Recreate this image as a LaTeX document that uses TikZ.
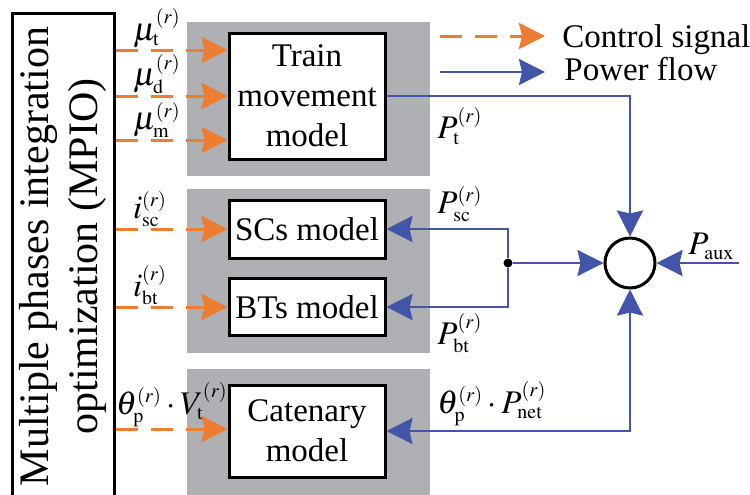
\documentclass[tikz,border=0pt]{standalone}
\usepackage{mathptmx}
\usepackage{fontspec}
\setmainfont{Liberation Serif}
\usetikzlibrary{arrows.meta}
\DeclareMathSizes{16.5}{16.5}{10}{7.5}

\definecolor{ctrlorange}{RGB}{237,125,49}
\definecolor{powerblue}{RGB}{66,85,168}
\definecolor{panelgray}{RGB}{175,176,180}

\tikzset{
  bigtip/.tip={Stealth[length=13pt,width=13pt,inset=1.5pt]},
  model/.style={draw, line width=1.5pt, fill=white, minimum width=78pt, inner sep=0pt, align=center},
  ctrl/.style={ctrlorange, line width=1.5pt, dash pattern=on 11pt off 6.5pt, -bigtip},
  power/.style={powerblue, line width=1.3pt, -bigtip},
  lab/.style={inner sep=1pt},
}

\begin{document}
\begin{tikzpicture}[x=0.5pt, y=-0.5pt, font=\fontsize{16.5}{20}\selectfont]

\def\ctrlin(#1,#2,#3,#4,#5){ % name, target model, y of the arrow, x of the label, label
\coordinate (#1) at (#2.west |- 0,#3);
\draw[ctrl] (mpio.east |- #1) -- (#1);
\node[lab, anchor=south] (#1lab) at (#4,#3) {$#5$};
}

\useasboundingbox (0,0) rectangle (750,494);

%Grey panels behind the models
\fill[panelgray] (187,22) rectangle (430,176);
\fill[panelgray] (187,189) rectangle (430,353);
\fill[panelgray] (187,369) rectangle (430,500);

%MPIO block
\node[draw, line width=1.5pt, inner sep=0pt, minimum width=51pt, minimum height=243.5pt,
  font=\fontsize{21}{24.5}\selectfont] (mpio) at (63,256.5)
  {\rotatebox{90}{\begin{tabular}{@{}c@{}}Multiple phases integration\\optimization (MPIO)\end{tabular}}};

%Models
\node[model, minimum height=63pt] (tm) at (307,96) {Train\\movement\\model};
\node[model, minimum height=29pt] (sc) at (307,229) {SCs model};
\node[model, minimum height=28.5pt] (bt) at (307,307) {BTs model};
\node[model, minimum height=46pt] (cat) at (307,431) {Catenary\\model};

%Power balance node
\node[draw, circle, line width=1.5pt, minimum size=25pt, inner sep=0pt] (sum) at (630,263) {};
\node[circle, fill=black, minimum size=4.5pt, inner sep=0pt] (junc) at (508,263) {};
\coordinate (aux) at (739,263);

%Control signals
\ctrlin(mut,tm,50,157,{\mu_{\mathrm{t}}^{(r)}})
\ctrlin(mud,tm,96,157,{\mu_{\mathrm{d}}^{(r)}})
\ctrlin(mum,tm,140,157,{\mu_{\mathrm{m}}^{(r)}})
\ctrlin(isc,sc,229,150,{i_{\mathrm{sc}}^{(r)}})
\ctrlin(ibt,bt,307,150,{i_{\mathrm{bt}}^{(r)}})
\ctrlin(vt,cat,429,172,{\theta_{\mathrm{p}}^{(r)}\cdot V_{\mathrm{t}}^{(r)}})

%Power flows
\draw[power] (tm.east) -| (sum.north);
\draw[power] (junc) -- (sum.west);
\draw[power] (junc) |- (sc.east);
\draw[power] (junc) |- (bt.east);
\draw[power] (aux) -- (sum.east);
\draw[power, bigtip-bigtip] (cat.east) -| (sum.south);

%Power labels
\node[lab, anchor=north west] (ptlab) at (435,105) {$P_{\mathrm{t}}^{(r)}$};
\node[lab, anchor=south west] (psclab) at (435,224) {$P_{\mathrm{sc}}^{(r)}$};
\node[lab, anchor=north west] (pbtlab) at (435,311) {$P_{\mathrm{bt}}^{(r)}$};
\node[lab, anchor=south west] (pnetlab) at (435,428) {$\theta_{\mathrm{p}}^{(r)}\cdot P_{\mathrm{net}}^{(r)}$};
\node[lab, anchor=south west] (auxlab) at (686,262) {$P_{\mathrm{aux}}$};

%Legend
\coordinate (cs0) at (440,36);
\coordinate (cs1) at (545,36);
\coordinate (pf0) at (440,72);
\coordinate (pf1) at (545,72);
\draw[ctrl] (cs0) -- (cs1);
\draw[power] (pf0) -- (pf1);
\node[anchor=base west, inner sep=0pt] (cstext) at (562,47) {Control signal};
\node[anchor=base west, inner sep=0pt] (pftext) at (564,80) {Power flow};

\end{tikzpicture}
\end{document}
